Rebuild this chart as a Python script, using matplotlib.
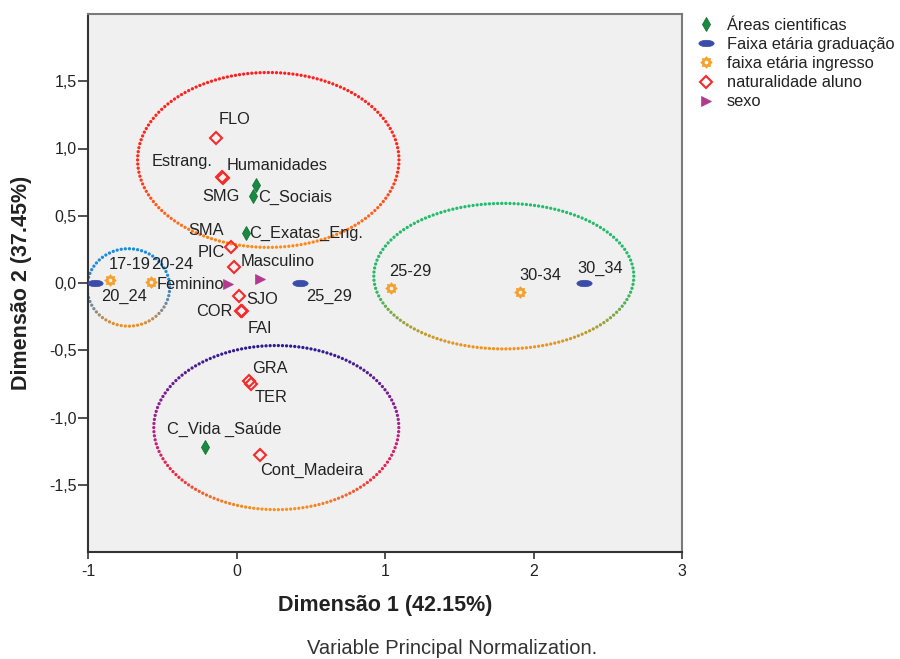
import numpy as np
import matplotlib
matplotlib.use("Agg")
import matplotlib.pyplot as plt
from matplotlib.path import Path
from matplotlib.colors import to_rgb

plt.rcParams['font.family'] = ['Liberation Sans', 'DejaVu Sans']

# ---- category coordinates (Dimensão 1, Dimensão 2) ----
area_labels = ["Humanidades", "C_Sociais", "C_Exatas_Eng.", "C_Vida _Saúde"]
area_x = [0.13, 0.11, 0.065, -0.21]
area_y = [0.73, 0.65, 0.375, -1.22]

grad_labels = ["20_24", "25_29", "30_34"]
grad_x = [-0.95, 0.43, 2.34]
grad_y = [0.0, 0.0, 0.0]

ingr_labels = ["17-19", "20-24", "25-29", "30-34"]
ingr_x = [-0.85, -0.575, 1.04, 1.91]
ingr_y = [0.02, 0.01, -0.04, -0.07]

nat_labels = ["FLO", "Estrang.", "SMG", "SMA", "PIC", "SJO", "COR", "FAI",
              "GRA", "TER", "Cont_Madeira"]
nat_x = [-0.14, -0.10, -0.09, -0.035, -0.015, 0.02, 0.03, 0.035, 0.085, 0.095, 0.16]
nat_y = [1.08, 0.79, 0.78, 0.27, 0.12, -0.10, -0.21, -0.205, -0.73, -0.75, -1.28]

sexo_labels = ["Feminino", "Masculino"]
sexo_x = [-0.055, 0.155]
sexo_y = [-0.01, 0.03]

legend_names = ["Áreas cientificas", "Faixa etária graduação", "faixa etária ingresso",
                "naturalidade aluno", "sexo"]

x_ticks = [-1, 0, 1, 2, 3]
y_ticks = [-1.5, -1.0, -0.5, 0.0, 0.5, 1.0, 1.5]

# label offsets in pixels (right, down) from each point
label_offsets = {
    "Humanidades": (21, -19), "C_Sociais": (42, 2), "C_Exatas_Eng.": (60, 1),
    "C_Vida _Saúde": (19, -18),
    "20_24": (29, 13), "25_29": (29, 13), "30_34": (16, -15),
    "17-19": (19, -16), "20-24": (21, -17), "25-29": (19, -17), "30-34": (20, -17),
    "FLO": (19, -18), "Estrang.": (-40, -15), "SMG": (-2, 18), "SMA": (-25, -16),
    "PIC": (-23, -14), "SJO": (23, 3), "COR": (-27, 0), "FAI": (18, 18),
    "GRA": (21, -13), "TER": (20, 14), "Cont_Madeira": (51, 15),
    "Feminino": (-38, 0), "Masculino": (18, -17),
}

# grouping ellipses: centre x, centre y, width, height, colour stops (top -> bottom)
ellipses = [
    (0.214, 0.915, 1.76, 1.30, [(0.0, "#ff1f1f"), (0.55, "#ff2a1a"), (1.0, "#ff8c1a")]),
    (-0.728, -0.033, 0.556, 0.576, [(0.0, "#1a8ce0"), (0.5, "#2a8ad0"), (0.8, "#8a8a8a"), (1.0, "#f0901e")]),
    (1.80, 0.051, 1.751, 1.082, [(0.0, "#1fbf6a"), (0.6, "#2cb865"), (0.85, "#a8a030"), (1.0, "#f7931e")]),
    (0.268, -1.075, 1.65, 1.22, [(0.0, "#2b1c91"), (0.5, "#b0208f"), (0.8, "#f02a40"), (1.0, "#f7931e")]),
]

GREEN = "#1a8a40"
BLUE = "#3b4ba8"
ORANGE = "#f5a02a"
RED = "#f52a2a"
MAGENTA = "#b23a8e"
TEXT = "#222222"


def sun_marker():
    n = 8
    ang = np.linspace(0, 2 * np.pi, 2 * n, endpoint=False) + np.pi / 2
    r = np.where(np.arange(2 * n) % 2 == 0, 1.0, 0.72)
    outer = np.column_stack([r * np.cos(ang), r * np.sin(ang)])
    a2 = np.linspace(2 * np.pi, 0, 20, endpoint=False)
    inner = np.column_stack([0.36 * np.cos(a2), 0.36 * np.sin(a2)])
    verts = np.vstack([outer, outer[:1], inner, inner[:1]])
    codes = ([Path.MOVETO] + [Path.LINETO] * (len(outer) - 1) + [Path.CLOSEPOLY]
             + [Path.MOVETO] + [Path.LINETO] * (len(inner) - 1) + [Path.CLOSEPOLY])
    return Path(verts, codes)


def oval_marker():
    a = np.linspace(0, 2 * np.pi, 40, endpoint=False)
    v = np.column_stack([np.cos(a), 0.42 * np.sin(a)])
    return Path(np.vstack([v, v[:1]]), [Path.MOVETO] + [Path.LINETO] * 39 + [Path.CLOSEPOLY])


SUN = sun_marker()
OVAL = oval_marker()


def gradient(t, stops):
    pos = [s[0] for s in stops]
    cols = np.array([to_rgb(s[1]) for s in stops])
    return np.column_stack([np.interp(t, pos, cols[:, k]) for k in range(3)])


def dotted_ellipse(ax, cx, cy, w, h, stops, spacing=4.1, size=5.5):
    th = np.linspace(0, 2 * np.pi, 3000)
    pts = ax.transData.transform(np.column_stack([cx + w / 2 * np.cos(th),
                                                  cy + h / 2 * np.sin(th)]))
    d = np.concatenate([[0], np.cumsum(np.hypot(*np.diff(pts, axis=0).T))])
    n = int(d[-1] // spacing)
    tgt = np.linspace(0, d[-1], n, endpoint=False)
    disp = np.column_stack([np.interp(tgt, d, pts[:, 0]), np.interp(tgt, d, pts[:, 1])])
    data = ax.transData.inverted().transform(disp)
    t = np.clip((cy + h / 2 - data[:, 1]) / h, 0, 1)
    ax.scatter(data[:, 0], data[:, 1], s=size, c=gradient(t, stops), marker='o',
               linewidths=0, zorder=1)


fig = plt.figure(figsize=(9, 6.59), dpi=100)
ax = fig.add_axes([88 / 900, 107 / 659, 594 / 900, 538 / 659])
ax.set_facecolor("#f0f0f0")
ax.set_xlim(-1, 3)
ax.set_ylim(-2.0, 2.0)

for cx, cy, w, h, stops in ellipses:
    dotted_ellipse(ax, cx, cy, w, h, stops)

h_area, = ax.plot(area_x, area_y, ls='none', marker='d', ms=7, mfc=GREEN, mec="#147034",
                  mew=0.6, zorder=3)
h_grad, = ax.plot(grad_x, grad_y, ls='none', marker=OVAL, ms=11, mfc=BLUE, mec=BLUE,
                  mew=0.5, zorder=3)
h_ingr, = ax.plot(ingr_x, ingr_y, ls='none', marker=SUN, ms=8.5, mfc=ORANGE, mec=ORANGE,
                  mew=0.4, zorder=3)
h_nat, = ax.plot(nat_x, nat_y, ls='none', marker='D', ms=6.2, mfc='none', mec=RED,
                 mew=1.5, zorder=3)
h_sexo, = ax.plot(sexo_x, sexo_y, ls='none', marker='>', ms=7.2, mfc=MAGENTA, mec=MAGENTA,
                  mew=0.5, zorder=3)

for labels, xs, ys in [(area_labels, area_x, area_y), (grad_labels, grad_x, grad_y),
                       (ingr_labels, ingr_x, ingr_y), (nat_labels, nat_x, nat_y),
                       (sexo_labels, sexo_x, sexo_y)]:
    for lab, x, y in zip(labels, xs, ys):
        dx, dy = label_offsets[lab]
        ax.annotate(lab, (x, y), xytext=(dx * 0.72, -dy * 0.72), textcoords='offset points',
                    ha='center', va='center', fontsize=11.8, color=TEXT, zorder=4)

ax.set_xticks(x_ticks, [f"{v:d}" for v in x_ticks])
ax.set_yticks(y_ticks, [f"{v:.1f}".replace('.', ',') for v in y_ticks])
ax.tick_params(axis='both', direction='out', labelsize=11.5, colors="#333333",
               labelcolor=TEXT, width=1.2)
ax.tick_params(axis='y', length=7, pad=1)
ax.tick_params(axis='x', length=5, pad=4)

for side in ['left', 'bottom']:
    ax.spines[side].set_color("#333333")
    ax.spines[side].set_linewidth(1.5)
for side in ['top', 'right']:
    ax.spines[side].set_color("#7a7a7a")
    ax.spines[side].set_linewidth(1.5)

ax.set_xlabel("Dimensão 1 (42.15%)", fontsize=15.5, fontweight='bold', color=TEXT)
ax.set_ylabel("Dimensão 2 (37.45%)", fontsize=15.5, fontweight='bold', color=TEXT)
ax.xaxis.set_label_coords(0.5, (552 - 606) / 538)
ax.yaxis.set_label_coords((22 - 88) / 594, 0.5)
ax.xaxis.label.set_va('center')
ax.yaxis.label.set_va('center')

fig.legend([h_area, h_grad, h_ingr, h_nat, h_sexo], legend_names,
           loc='upper left', bbox_to_anchor=(698 / 900, 1 - 18 / 659),
           frameon=False, fontsize=11.8, handlelength=1.0, handletextpad=0.75,
           labelspacing=0.25, borderpad=0, borderaxespad=0, numpoints=1,
           labelcolor=TEXT)

fig.text(452 / 900, 1 - 648 / 659, "Variable Principal Normalization.", ha='center',
         va='center', fontsize=14.5, color="#333333")

fig.savefig("out.png", dpi=100)
